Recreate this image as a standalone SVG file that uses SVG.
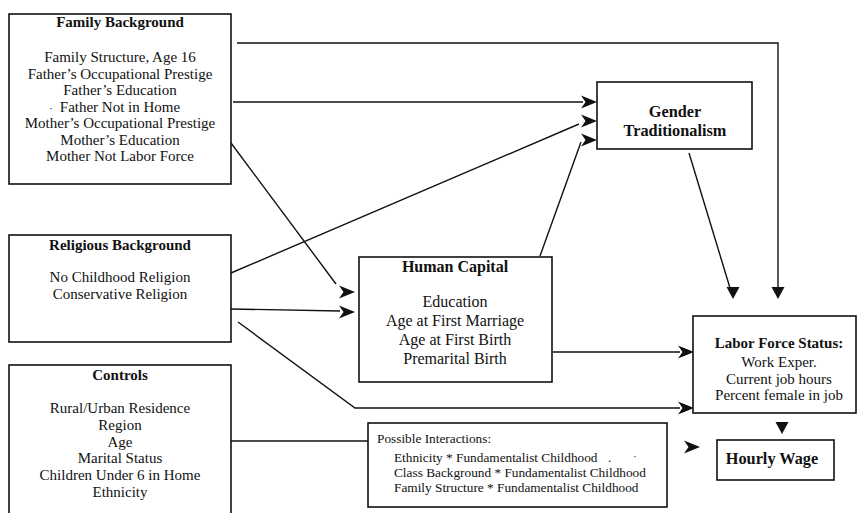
<svg xmlns="http://www.w3.org/2000/svg" xmlns:xlink="http://www.w3.org/1999/xlink" width="858" height="513" viewBox="0 0 858 513">
<style>
.box{fill:#fff;stroke:#111;stroke-width:1.6}
.ln{fill:none;stroke:#111;stroke-width:1.4}
.ah{fill:#111;stroke:none}
text{font-family:"Liberation Serif","Times New Roman",serif;fill:#111;font-size:15px}
.c{text-anchor:middle}
.b{font-weight:bold}
.sm{font-size:13.3px}
.hc{font-size:16px}
.big{font-size:16.3px}
.dot{font-size:11px}
</style>
<defs>
<path id="ar" d="M0,0 L-16,-6.5 L-11.5,0 L-16,6.5 Z"/>
<path id="ad" d="M0,0 L-6.5,-12 L6.5,-12 Z"/>
</defs>
<rect width="858" height="513" fill="#fff"/>
<g id="connectors">
<polyline class="ln" points="237,43 778,43 778,287"/>
<use href="#ad" class="ah" x="778" y="299"/>
<line class="ln" x1="233" y1="102" x2="583" y2="102"/>
<use href="#ar" class="ah" x="597" y="102"/>
<line class="ln" x1="231" y1="143" x2="336" y2="284"/>
<use href="#ar" class="ah" x="355" y="292"/>
<line class="ln" x1="231" y1="273" x2="579" y2="124"/>
<use href="#ar" class="ah" x="597" y="121"/>
<line class="ln" x1="231" y1="309" x2="340" y2="311"/>
<use href="#ar" class="ah" x="355" y="312"/>
<polyline class="ln" points="238,322 355,408 680,408"/>
<use href="#ar" class="ah" x="694" y="408"/>
<line class="ln" x1="540" y1="256" x2="581" y2="142"/>
<use href="#ar" class="ah" x="597" y="140"/>
<line class="ln" x1="689" y1="153" x2="730" y2="288"/>
<use href="#ad" class="ah" x="733" y="299"/>
<line class="ln" x1="553" y1="352" x2="680" y2="352"/>
<use href="#ar" class="ah" x="694" y="352"/>
<line class="ln" x1="231" y1="441" x2="368" y2="441"/>
<use href="#ar" class="ah" x="700" y="447"/>
<use href="#ad" class="ah" x="782" y="434"/>
</g>
<g id="family">
<rect class="box" x="9" y="14" width="222" height="170"/>
<text class="c b" x="120" y="27">Family Background</text>
<text class="c" x="120" y="62">Family Structure, Age 16</text>
<text class="c" x="120" y="78.5">Father’s Occupational Prestige</text>
<text class="c" x="120" y="95">Father’s Education</text>
<text class="c" x="120" y="111.5">Father Not in Home</text>
<text class="dot" x="49" y="111.5">·</text>
<text class="c" x="120" y="128">Mother’s Occupational Prestige</text>
<text class="c" x="120" y="144.5">Mother’s Education</text>
<text class="c" x="120" y="161">Mother Not Labor Force</text>
</g>
<g id="religious">
<rect class="box" x="9" y="235" width="222" height="107"/>
<text class="c b" x="120" y="250">Religious Background</text>
<text class="c" x="120" y="282">No Childhood Religion</text>
<text class="c" x="120" y="299">Conservative Religion</text>
</g>
<g id="controls">
<rect class="box" x="9" y="365" width="222" height="160"/>
<text class="c b" x="120" y="380">Controls</text>
<text class="c" x="120" y="413">Rural/Urban Residence</text>
<text class="c" x="120" y="430">Region</text>
<text class="c" x="120" y="446.5">Age</text>
<text class="c" x="120" y="463">Marital Status</text>
<text class="c" x="120" y="480">Children Under 6 in Home</text>
<text class="c" x="120" y="496.5">Ethnicity</text>
</g>
<g id="gender">
<rect class="box" x="597" y="82" width="155" height="67"/>
<text class="c b big" x="675" y="117">Gender</text>
<text class="c b big" x="675" y="136">Traditionalism</text>
</g>
<g id="human-capital">
<rect class="box" x="359" y="257" width="193" height="125"/>
<text class="c b hc" x="455" y="272">Human Capital</text>
<text class="c hc" x="455" y="307">Education</text>
<text class="c hc" x="455" y="326">Age at First Marriage</text>
<text class="c hc" x="455" y="345">Age at First Birth</text>
<text class="c hc" x="455" y="363.5">Premarital Birth</text>
</g>
<g id="labor">
<rect class="box" x="693" y="316" width="163" height="97"/>
<text class="c b" x="779" y="348">Labor Force Status:</text>
<text class="c" x="779" y="367">Work Exper.</text>
<text class="c" x="779" y="383.5">Current job hours</text>
<text class="c" x="779" y="400">Percent female in job</text>
</g>
<g id="wage">
<rect class="box" x="717" y="440" width="117" height="40"/>
<text class="c b big" x="772" y="464">Hourly Wage</text>
</g>
<g id="interactions">
<rect class="box" x="368" y="423" width="299" height="84"/>
<text class="sm" x="377" y="443">Possible Interactions:</text>
<text class="sm" x="394" y="462">Ethnicity * Fundamentalist Childhood</text>
<text class="sm" x="608" y="462">.</text>
<text class="dot" x="633" y="460">·</text>
<text class="sm" x="394" y="477">Class Background * Fundamentalist Childhood</text>
<text class="sm" x="394" y="492">Family Structure * Fundamentalist Childhood</text>
</g>
</svg>
